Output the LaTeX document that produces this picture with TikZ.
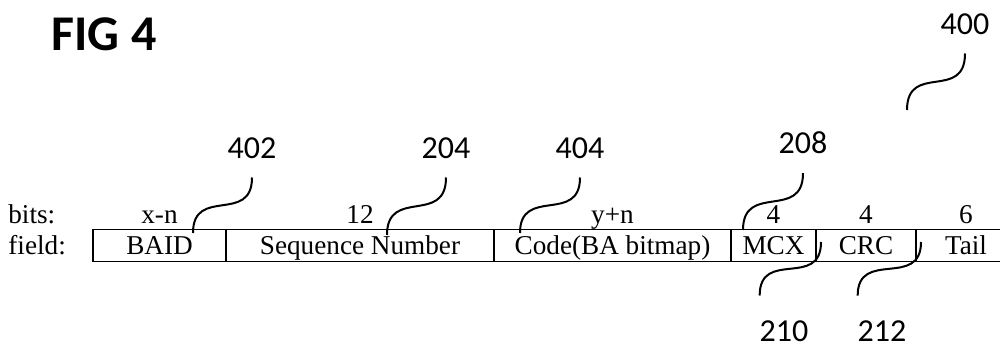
\documentclass[tikz,border=0pt]{standalone}
\usepackage{fontspec}
\newfontfamily\fieldfont{Liberation Serif}
\newfontfamily\reffont{Carlito}
\usepackage{tikz}
\usetikzlibrary{positioning}

\begin{document}
\begin{tikzpicture}[x=0.5pt, y=-0.5pt,
        cell/.style={draw, line width=0.6pt, inner sep=0pt, outer sep=0pt, minimum height=16pt,
            text height=11.5pt, text depth=2pt, font=\fieldfont\fontsize{13.6}{16}\selectfont},
        bitnum/.style={inner sep=0pt, font=\fieldfont\fontsize{13.6}{16}\selectfont},
        refnum/.style={inner sep=0pt, outer sep=9.5pt, font=\reffont\fontsize{16}{19}\selectfont},
        refbelow/.style={refnum, outer sep=0pt},
        leader/.style={line width=1pt}]
            \path [use as bounding box] (0,0) rectangle (1000,347);
            \clip (0,0) rectangle (1000,347);
            \node [inner sep=0pt, font=\reffont\bfseries\fontsize{25}{30}\selectfont] (fig) at (104,34) {FIG 4};
         % Frame fields
            \node [cell, minimum width=66.5pt, anchor=north west] (baid) at (93,229.5) {BAID};
            \node [cell, minimum width=134pt, right=0pt of baid] (seq) {Sequence Number};
            \node [cell, minimum width=118.5pt, right=0pt of seq] (code) {Code(BA bitmap)};
            \node [cell, minimum width=42.5pt, right=0pt of code] (mcx) {MCX};
            \node [cell, minimum width=50pt, right=0pt of mcx] (crc) {CRC};
            \node [cell, minimum width=50pt, right=0pt of crc] (tail) {Tail};
         % Bit counts
            \node [bitnum, anchor=base west] (bitslbl) at (8,223) {bits:};
            \node [bitnum, anchor=base west] (fieldlbl) at (8,255) {field:};
            \node [bitnum, above=3.25pt of baid, anchor=base] (nbaid) {x-n};
            \node [bitnum, above=3.25pt of seq, anchor=base] (nseq) {12};
            \node [bitnum, above=3.25pt of code, anchor=base] (ncode) {y+n};
            \node [bitnum, above=3.25pt of mcx, anchor=base] (nmcx) {4};
            \node [bitnum, above=3.25pt of crc, anchor=base] (ncrc) {4};
            \node [bitnum, above=3.25pt of tail, anchor=base] (ntail) {6};
         % Reference numerals
            \node [refnum] (l400) at (965,24) {400};
            \node [refnum] (l402) at (252,148) {402};
            \node [refnum] (l204) at (446,148) {204};
            \node [refnum] (l404) at (580,148) {404};
            \node [refnum] (l208) at (803,143) {208};
            \node [refbelow] (l210) at (784,331) {210};
            \node [refbelow] (l212) at (882,331) {212};
            \coordinate (e400) at (907,110);
            \coordinate (e402) at (193,233);
            \coordinate (e204) at (387,235);
            \coordinate (e404) at (520,233);
            \coordinate (e208) at (743,230);
            \coordinate (s210) at (821,242);
            \coordinate (s212) at (921,242);
        \draw [leader] (l400.south) .. controls +(0,48) and +(0,-48) .. (e400);
        \draw [leader] (l402.south) .. controls +(0,47) and +(0,-47) .. (e402);
        \draw [leader] (l204.south) .. controls +(0,48) and +(0,-48) .. (e204);
        \draw [leader] (l404.south) .. controls +(0,47) and +(0,-47) .. (e404);
        \draw [leader] (l208.south) .. controls +(0,48) and +(0,-48) .. (e208);
        \draw [leader] (s210) .. controls +(0,47) and +(0,-47) .. ([yshift=12.5pt]l210.north west);
        \draw [leader] (s212) .. controls +(0,47) and +(0,-47) .. ([yshift=12.5pt]l212.north west);
\end{tikzpicture}
\end{document}
